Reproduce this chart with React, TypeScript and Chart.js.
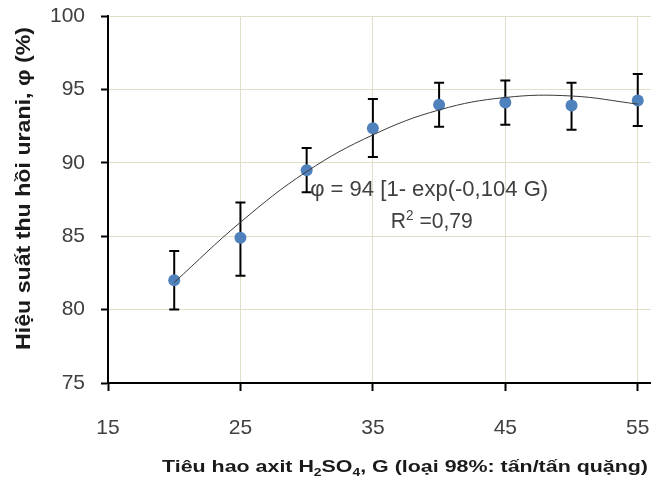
import React, { useEffect, useRef } from "react";
import { Chart, registerables } from "chart.js";

Chart.register(...registerables);

// ---- data ----
const acidConsumption = [20, 25, 30, 35, 40, 45, 50, 55];
const recovery = [82.0, 84.9, 89.5, 92.35, 93.95, 94.1, 93.9, 94.25];
const errorLow = [80.0, 82.3, 88.0, 90.4, 92.45, 92.6, 92.25, 92.5];
const errorHigh = [84.0, 87.3, 91.0, 94.35, 95.45, 95.6, 95.45, 96.05];
const trendX = [20, 25, 30, 35, 40, 45, 50, 55];
const trendY = [81.85, 85.95, 89.4, 91.9, 93.6, 94.45, 94.55, 94.0];
const xTickValues = [15, 25, 35, 45, 55];
const yTickValues = [75, 80, 85, 90, 95, 100];

const yTitle = "Hiệu suất thu hồi urani, φ (%)";
const xTitleParts = [
  { t: "Tiêu hao axit H", k: "n" },
  { t: "2", k: "sub" },
  { t: "SO", k: "n" },
  { t: "4", k: "sub" },
  { t: ", G (loại 98%: tấn/tấn quặng)", k: "n" },
];
const eqLine1 = [{ t: "φ = 94 [1- exp(-0,104 G)", k: "n" }];
const eqLine2 = [
  { t: "R", k: "n" },
  { t: "2", k: "sup" },
  { t: " =0,79", k: "n" },
];

const FONT = '"Liberation Sans", Arial, sans-serif';
const GRID = "#e2dfc7";
const TEXT = "#404040";

type Seg = { t: string; k: string };

function drawRich(
  ctx: CanvasRenderingContext2D,
  segs: Seg[],
  size: number,
  bold: boolean,
  targetWidth: number,
  color: string
) {
  const f = (k: string) =>
    `${bold ? "bold " : ""}${k === "n" ? size : Math.round(size * 0.65)}px ${FONT}`;
  let total = 0;
  const widths: number[] = [];
  for (const s of segs) {
    ctx.font = f(s.k);
    const w = ctx.measureText(s.t).width;
    widths.push(w);
    total += w;
  }
  const sx = targetWidth / total;
  ctx.save();
  ctx.scale(sx, 1);
  ctx.fillStyle = color;
  ctx.textBaseline = "alphabetic";
  ctx.textAlign = "left";
  let x = -total / 2;
  segs.forEach((s, i) => {
    ctx.font = f(s.k);
    const dy = s.k === "sub" ? size * 0.22 : s.k === "sup" ? -size * 0.38 : 0;
    ctx.fillText(s.t, x, dy);
    x += widths[i];
  });
  ctx.restore();
}

const errorBarPlugin = {
  id: "errorBars",
  beforeDatasetsDraw(chart: any) {
    const { ctx, scales } = chart;
    const xs = scales.x;
    const ys = scales.y;
    ctx.save();
    ctx.strokeStyle = "#000";
    ctx.lineWidth = 2;
    acidConsumption.forEach((g, i) => {
      const px = xs.getPixelForValue(g);
      const lo = ys.getPixelForValue(errorLow[i]);
      const hi = ys.getPixelForValue(errorHigh[i]);
      ctx.beginPath();
      ctx.moveTo(px, lo);
      ctx.lineTo(px, hi);
      ctx.moveTo(px - 5, lo);
      ctx.lineTo(px + 5, lo);
      ctx.moveTo(px - 5, hi);
      ctx.lineTo(px + 5, hi);
      ctx.stroke();
    });
    ctx.restore();
  },
};

const textPlugin = {
  id: "texts",
  afterDraw(chart: any) {
    const { ctx, scales } = chart;
    const xs = scales.x;
    const ys = scales.y;
    // equation annotation (anchored in data space)
    ctx.save();
    ctx.translate(xs.getPixelForValue(39.25), ys.getPixelForValue(87.74));
    drawRich(ctx, eqLine1, 22, false, 238, TEXT);
    ctx.restore();
    ctx.save();
    ctx.translate(xs.getPixelForValue(39.45), ys.getPixelForValue(85.54));
    drawRich(ctx, eqLine2, 22, false, 82, TEXT);
    ctx.restore();
    // x axis title
    ctx.save();
    ctx.translate(405, 472);
    drawRich(ctx, xTitleParts, 17, true, 486, "#1a1a1a");
    ctx.restore();
    // y axis title
    ctx.save();
    ctx.translate(30, 188.5);
    ctx.rotate(-Math.PI / 2);
    drawRich(ctx, [{ t: yTitle, k: "n" }], 21, true, 323, "#1a1a1a");
    ctx.restore();
  },
};

export default function App() {
  const ref = useRef<HTMLCanvasElement | null>(null);
  useEffect(() => {
    if (!ref.current) return;
    const chart = new Chart(ref.current, {
      type: "scatter",
      data: {
        datasets: [
          {
            label: "trend",
            data: trendX.map((x, i) => ({ x, y: trendY[i] })),
            showLine: true,
            borderColor: "#3a3a3a",
            borderWidth: 1,
            pointRadius: 0,
            tension: 0.4,
            fill: false,
          },
          {
            label: "recovery",
            data: acidConsumption.map((x, i) => ({ x, y: recovery[i] })),
            pointRadius: 6,
            pointHoverRadius: 6,
            backgroundColor: "#4f81bd",
            borderWidth: 0,
          },
        ],
      },
      options: {
        responsive: false,
        animation: false,
        events: [],
        layout: { padding: { top: 16, right: 0, bottom: 0, left: 0 } },
        plugins: {
          legend: { display: false },
          tooltip: { enabled: false },
          title: { display: false },
        },
        scales: {
          x: {
            type: "linear",
            min: 15,
            max: 56,
            afterBuildTicks: (axis: any) => {
              axis.ticks = xTickValues.map((v) => ({ value: v }));
            },
            afterFit: (scale: any) => {
              scale.height = 102;
              scale.paddingLeft = 0;
              scale.paddingRight = 0;
              scale.paddingTop = 0;
              scale.paddingBottom = 0;
            },
            grid: {
              color: GRID,
              lineWidth: 1,
              drawTicks: true,
              tickLength: 8,
              tickColor: "#000",
              tickWidth: 2,
            },
            border: { color: "#000", width: 2, z: 1 },
            ticks: {
              color: TEXT,
              font: { family: FONT, size: 21 },
              padding: 25,
              maxRotation: 0,
              autoSkip: false,
            },
          },
          y: {
            type: "linear",
            min: 75,
            max: 100,
            afterBuildTicks: (axis: any) => {
              axis.ticks = yTickValues.map((v) => ({ value: v }));
            },
            afterFit: (scale: any) => {
              scale.width = 108;
              scale.paddingLeft = 0;
              scale.paddingRight = 0;
              scale.paddingTop = 0;
              scale.paddingBottom = 0;
            },
            grid: {
              color: GRID,
              lineWidth: 1,
              drawTicks: true,
              tickLength: 7,
              tickColor: "#000",
              tickWidth: 2,
            },
            border: { color: "#000", width: 2, z: 1 },
            ticks: {
              color: TEXT,
              font: { family: FONT, size: 21 },
              padding: 16,
              autoSkip: false,
            },
          },
        },
      },
      plugins: [errorBarPlugin, textPlugin],
    } as any);
    return () => chart.destroy();
  }, []);
  return (
    <div
      style={{
        position: "fixed",
        left: 0,
        top: 0,
        width: 651,
        height: 485,
        overflow: "hidden",
        background: "#fff",
      }}
    >
      <canvas ref={ref} width={657} height={485} />
    </div>
  );
}
